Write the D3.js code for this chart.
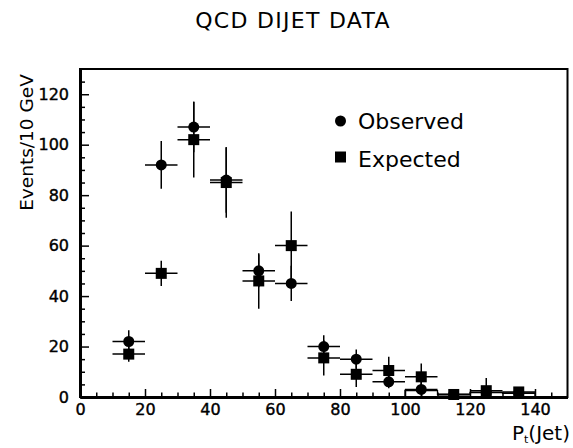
<!DOCTYPE html>
<html>
<head>
<meta charset="utf-8">
<script src="https://d3js.org/d3.v7.min.js"></script>
<style>
  body { margin: 0; background: #fff; }
  svg { display: block; font-family: "DejaVu Sans", sans-serif; }
</style>
</head>
<body>
<script>
// bin centres (GeV) and values
const binCenters = [15, 25, 35, 45, 55, 65, 75, 85, 95, 105, 115, 125, 135];
const observed = [22, 92, 107, 86, 50, 45, 20, 15, 6, 3, 1, 1.8, 1.5];
const observedErr = [4.5, 9.5, 10, 13, 6.5, 7, 4.5, 3.8, 2.5, 3, 1, 1, 1];
const expected = [17, 49, 102, 85, 46, 60, 15.5, 9, 10.5, 8, 1, 2.5, 2];
const expectedErr = [3, 5, 15, 14, 11, 13.5, 7, 5, 5.5, 5.3, 1, 5, 1.8];
const histEdges = [100, 110, 120, 130, 140];
const histValues = [2.5, 1, 1.8, 1.5];
const xTicks = [0, 20, 40, 60, 80, 100, 120, 140];
const yTicks = [0, 20, 40, 60, 80, 100, 120];

const W = 573, H = 448;
const halfBin = 5;

const x = d3.scaleLinear().domain([0, 150]).range([80, 567.5]);
const y = d3.scaleLinear().domain([0, 130]).range([397, 69]);

const svg = d3.select("body").append("svg")
    .attr("width", W)
    .attr("height", H);

// title
svg.append("text")
    .attr("x", 293).attr("y", 27.5)
    .attr("text-anchor", "middle")
    .style("font-size", "22px")
    .style("letter-spacing", "1.3px")
    .text("QCD DIJET DATA");

// frame
svg.append("rect")
    .attr("x", x(0)).attr("y", y(130))
    .attr("width", x(150) - x(0)).attr("height", y(0) - y(130))
    .attr("fill", "none").attr("stroke", "#000").attr("stroke-width", 2);

// axes, ticks inward
svg.append("g")
    .attr("transform", `translate(0,${y(0)})`)
    .call(d3.axisBottom(x).tickValues(xTicks).tickSizeInner(-8).tickSizeOuter(0).tickPadding(7));
svg.append("g")
    .attr("transform", `translate(0,${y(0)})`)
    .call(d3.axisBottom(x).tickValues(d3.range(5, 150, 5).filter(v => v % 20 !== 0))
        .tickSizeInner(-4.5).tickSizeOuter(0).tickFormat(""));

svg.append("g")
    .attr("transform", `translate(${x(0)},0)`)
    .call(d3.axisLeft(y).tickValues(yTicks).tickSizeInner(-9).tickSizeOuter(0).tickPadding(11));
svg.append("g")
    .attr("transform", `translate(${x(0)},0)`)
    .call(d3.axisLeft(y).tickValues(d3.range(5, 130, 5).filter(v => v % 20 !== 0))
        .tickSizeInner(-5).tickSizeOuter(0).tickFormat(""));

svg.selectAll(".domain").attr("stroke-width", 3);
svg.selectAll(".tick line").attr("stroke-width", 1.5);
svg.selectAll(".tick text")
    .style("font-size", "16px")
    .style("font-family", "DejaVu Sans, sans-serif")
    .attr("fill", "#000")
    .attr("stroke", "#000").attr("stroke-width", 0.4);

// axis titles
svg.append("text")
    .attr("transform", "translate(33,142.5) rotate(-90)")
    .attr("text-anchor", "middle")
    .style("font-size", "18.5px")
    .text("Events/10 GeV");

const xl = svg.append("text")
    .attr("x", 570).attr("y", 440)
    .attr("text-anchor", "end")
    .style("font-size", "20px");
xl.append("tspan").text("P");
xl.append("tspan").attr("dy", 3).style("font-size", "11px").text("t");
xl.append("tspan").attr("dy", -3).text("(Jet)");

// histogram outline at high Pt
const histPts = [[histEdges[0], 0]];
histValues.forEach((v, i) => {
    histPts.push([histEdges[i], v]);
    histPts.push([histEdges[i + 1], v]);
});
histPts.push([histEdges[histEdges.length - 1], 0]);
svg.append("path")
    .attr("d", d3.line().x(d => x(d[0])).y(d => y(d[1]))(histPts))
    .attr("fill", "none").attr("stroke", "#000").attr("stroke-width", 1.3);

// error bars + markers
function drawSeries(vals, errs, shape) {
    const g = svg.append("g");
    binCenters.forEach((c, i) => {
        const v = vals[i], e = errs[i];
        g.append("line")
            .attr("x1", x(c - halfBin)).attr("x2", x(c + halfBin))
            .attr("y1", y(v)).attr("y2", y(v))
            .attr("stroke", "#000").attr("stroke-width", 1.5);
        g.append("line")
            .attr("x1", x(c)).attr("x2", x(c))
            .attr("y1", y(Math.min(v + e, 130))).attr("y2", y(Math.max(v - e, 0)))
            .attr("stroke", "#000").attr("stroke-width", 1.5);
        if (shape === "circle") {
            g.append("circle").attr("cx", x(c)).attr("cy", y(v)).attr("r", 5.5).attr("fill", "#000");
        } else {
            g.append("rect").attr("x", x(c) - 5.5).attr("y", y(v) - 5.5)
                .attr("width", 11).attr("height", 11).attr("fill", "#000");
        }
    });
}
drawSeries(observed, observedErr, "circle");
drawSeries(expected, expectedErr, "square");

// legend
const legend = svg.append("g");
legend.append("circle").attr("cx", 340.5).attr("cy", 121).attr("r", 5.5).attr("fill", "#000");
legend.append("text").attr("x", 358).attr("y", 129).style("font-size", "22px").text("Observed");
legend.append("rect").attr("x", 335).attr("y", 151.5).attr("width", 11).attr("height", 11).attr("fill", "#000");
legend.append("text").attr("x", 358).attr("y", 166.5).style("font-size", "22px").text("Expected");
</script>
</body>
</html>
